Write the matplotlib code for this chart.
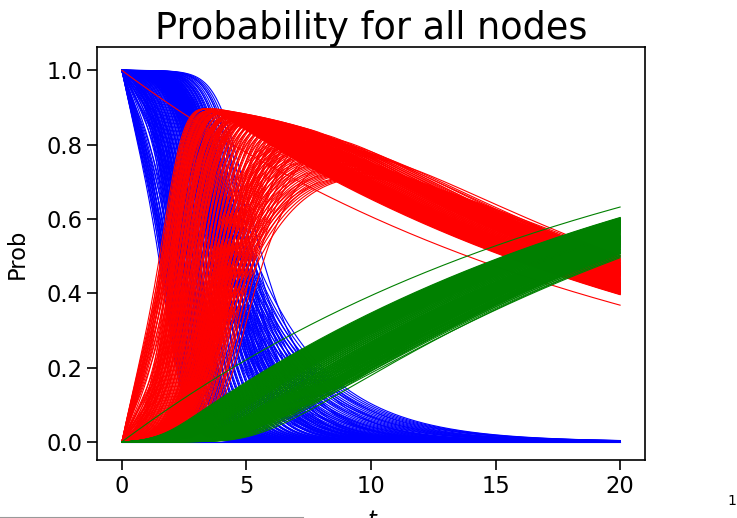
import numpy as np
import matplotlib
matplotlib.use('Agg')
import matplotlib.pyplot as plt
from matplotlib.lines import Line2D

# time axis and recovery rate of the model
t_end = 20
gamma = 0.05

# seed node: infected at t=0
seed_I0 = 1.0

# seed neighbours: direct exposure rate, then second wave (onset, rate)
nb_direct = [0.30, 0.26, 0.23, 0.20, 0.17]
nb_onset = [1.9, 2.0, 2.1, 2.25]
nb_rate = [2.2, 2.0, 1.9, 1.8]

# second neighbours: weak direct exposure
sn_direct = [0.13, 0.10, 0.08, 0.06, 0.04]
sn_onset = [2.1, 2.35, 2.6, 2.85]
sn_rate = [1.8, 1.6, 1.5, 1.4]

# bulk of the nodes: onset of infection, its rate, and the spread of rates
main_onset = [2.0, 2.1, 2.2, 2.3, 2.4, 2.5, 2.6, 2.7, 2.8, 2.9,
              3.0, 3.1, 3.2, 3.3, 3.4, 3.5, 3.6, 3.7, 3.8, 3.9,
              4.0, 4.15, 4.3]
main_rate = [1.8, 1.75, 1.7, 1.65, 1.6, 1.55, 1.5, 1.45, 1.4, 1.35,
             1.3, 1.25, 1.2, 1.15, 1.1, 1.05, 1.0, 0.95, 0.9, 0.85,
             0.8, 0.7, 0.6]
main_spread = [0.85, 1.0, 1.15, 1.3]

# low degree nodes: slow decay of S
tail_onset = [2.7, 2.85, 3.0, 3.15, 3.3]
tail_rate = [0.34, 0.37, 0.40, 0.44, 0.48, 0.52, 0.57, 0.62, 0.68, 0.74]

t = np.linspace(0, t_end, 801)
dt = t[1] - t[0]


def ramp(x, onset, width):
    return width * np.log1p(np.exp((x - onset) / width))


def s_curve(direct, onset, rate, width):
    g = ramp(t, onset, width) - ramp(0, onset, width)
    return np.exp(-(direct * t + rate * g))


def i_from_s(S):
    I = np.zeros_like(S)
    decay = np.exp(-gamma * dt)
    for n in range(len(S) - 1):
        I[n + 1] = I[n] * decay + (S[n] - S[n + 1]) * np.exp(-gamma * dt / 2)
    return I


S_all, I_all, R_all = [], [], []


def add_node(S):
    I = i_from_s(S)
    S_all.append(S)
    I_all.append(I)
    R_all.append(1 - S - I)


# seed
S_all.append(np.zeros_like(t))
I_all.append(seed_I0 * np.exp(-gamma * t))
R_all.append(1 - I_all[-1])

for a in nb_direct:
    for d, k in zip(nb_onset, nb_rate):
        add_node(s_curve(a, d, k, 0.4))

for a in sn_direct:
    for d, k in zip(sn_onset, sn_rate):
        add_node(s_curve(a, d, k, 0.45))

for d, k in zip(main_onset, main_rate):
    for m in main_spread:
        add_node(s_curve(0.0, d, k * m, 0.5))

for d in tail_onset:
    for k in tail_rate:
        add_node(s_curve(0.0, d, k, 0.6))

fig = plt.figure(figsize=(7.37, 5.18), dpi=100)
ax = fig.add_axes([97 / 737, 1 - 460 / 518, 548 / 737, 413 / 518])

for S in S_all:
    ax.plot(t, S, color='blue', lw=0.8)
for I in I_all:
    ax.plot(t, I, color='red', lw=0.8)
for R in R_all:
    ax.plot(t, R, color='green', lw=0.8)

ax.set_ylim(-0.049, 1.063)
ax.set_title('Probability for all nodes', fontsize=26.4)
ax.set_ylabel('Prob', fontsize=16.3, labelpad=13)
ax.set_yticks([0.0, 0.2, 0.4, 0.6, 0.8, 1.0])
ax.set_xticks([0, 5, 10, 15, 20])
ax.tick_params(labelsize=16.3, length=7, width=1.2)
for sp in ax.spines.values():
    sp.set_linewidth(1.2)

# cut-off bits of the surrounding figure
fig.text(373 / 737, 1 - 509 / 518, '$t$', fontsize=16.3, ha='center', va='top')
fig.text(732 / 737, 1 - 508 / 518, '1', fontsize=10, ha='center', va='bottom')
fig.add_artist(Line2D([0, 303 / 737], [0.5 / 518, 0.5 / 518], color='#999999', lw=1.5))

fig.savefig('out.png', dpi=100)
